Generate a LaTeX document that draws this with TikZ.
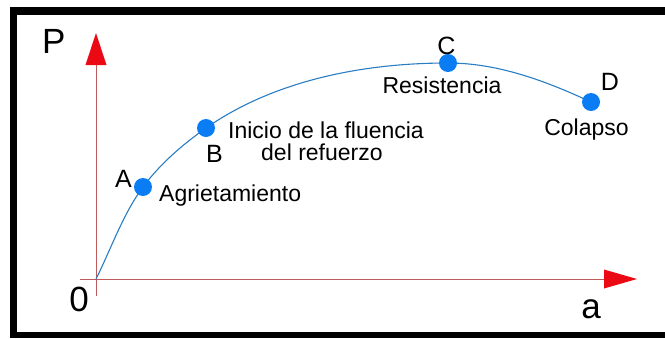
\documentclass[tikz,border=0pt]{standalone}
\usepackage{fontspec}
\setmainfont{Liberation Sans}
\definecolor{axisline}{RGB}{190,90,90}
\definecolor{axisred}{RGB}{235,10,20}
\definecolor{curveblue}{RGB}{40,125,195}
\definecolor{dotblue}{RGB}{10,125,245}
\tikzset{
  lbl/.style={inner sep=0pt, font=\fontsize{23}{26}\selectfont},
  ptname/.style={inner sep=0pt, font=\fontsize{25}{28}\selectfont},
  axname/.style={inner sep=0pt, font=\fontsize{35}{38}\selectfont},
  dot/.style={circle, fill=dotblue, inner sep=0pt, minimum size=18pt}
}
\begin{document}
\begin{tikzpicture}[x=1pt,y=-1pt]
\useasboundingbox (0,0) rectangle (665,338);
% frame
\fill[black] (10,7) rectangle (665,15);
\fill[black] (10,7) rectangle (17,338);
\fill[black] (10,332) rectangle (665,338);
% axes
\coordinate (o) at (96,279);
\coordinate (ybot) at (96,296);
\coordinate (ytop) at (96,64);
\coordinate (xleft) at (80,279);
\coordinate (xright) at (605,279);
\draw[axisline, line width=1pt] (ybot) -- (ytop);
\draw[axisline, line width=1pt] (xleft) -- (xright);
\fill[axisred] (96,33) -- (106.5,65) -- (85.5,65) -- cycle;
\fill[axisred] (637,279) -- (604,269.5) -- (604,288.5) -- cycle;
% points
\coordinate (ca) at (143,187);
\coordinate (cb) at (206,128);
\coordinate (cc) at (448,63);
\coordinate (cd) at (591,102);
% curve
\draw[curveblue, line width=1.1pt] (o) .. controls (111,249) and (123,214) .. (ca)
  .. controls (160,164) and (182,145) .. (cb)
  .. controls (275,80) and (364,63) .. (cc)
  .. controls (498,63) and (546,81) .. (cd);
\node[dot] (pa) at (ca) {};
\node[dot] (pb) at (cb) {};
\node[dot] (pc) at (cc) {};
\node[dot] (pd) at (cd) {};
% axis labels
\node[axname, anchor=base west] (lp) at (42,53) {P};
\node[axname, anchor=base] (l0) at (79,311) {0};
\node[axname, anchor=base] (la) at (591,318) {a};
% point letters
\node[ptname, anchor=base] (tA) at (123.5,187) {A};
\node[ptname, anchor=base] (tB) at (214.5,162) {B};
\node[ptname, anchor=base] (tC) at (446.5,54) {C};
\node[ptname, anchor=base] (tD) at (610,90) {D};
% descriptions
\node[lbl, anchor=base west] (dA) at (159,201) {Agrietamiento};
\node[lbl, anchor=base west] (dB1) at (228,138) {Inicio de la fluencia};
\node[lbl, anchor=base west] (dB2) at (261,160) {del refuerzo};
\node[lbl, anchor=base] (dC) at (442,93) {Resistencia};
\node[lbl, anchor=base] (dD) at (586.5,135) {Colapso};
\end{tikzpicture}
\end{document}
